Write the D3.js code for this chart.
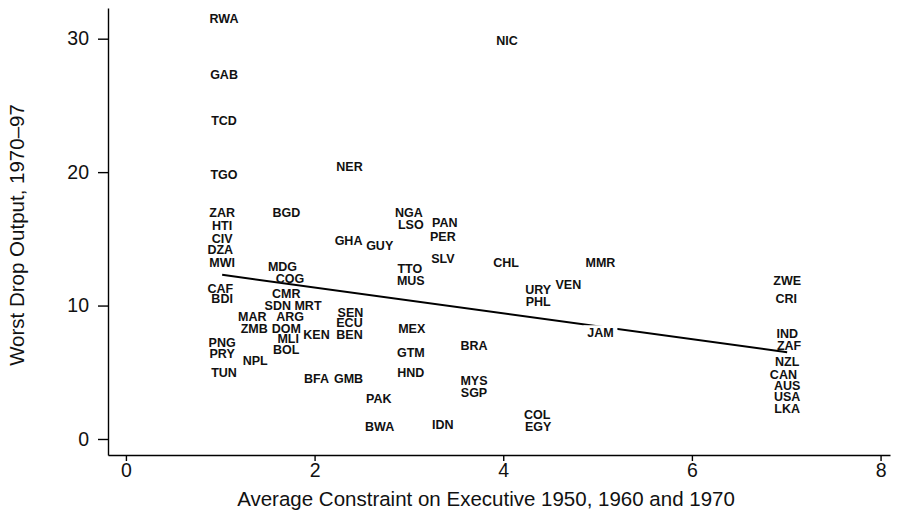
<!DOCTYPE html>
<html><head><meta charset="utf-8">
<script src="https://cdn.jsdelivr.net/npm/d3@7"></script>
<style>body{margin:0;background:#fff}svg{display:block}</style>
</head><body><svg id="c" width="904" height="519"></svg>
<script>
const codes = ["RWA","GAB","TCD","TGO","ZAR","HTI","CIV","DZA","MWI","CAF","BDI","PNG","PRY","TUN","NPL","MAR","ZMB",
"BGD","MDG","COG","CMR","SDN","MRT","ARG","DOM","MLI","BOL","KEN","BFA","GMB","SEN","ECU","BEN","NER","GHA","GUY","PAK","BWA",
"NGA","LSO","PAN","PER","SLV","TTO","MUS","MEX","GTM","HND","BRA","MYS","SGP","IDN","NIC","CHL","URY","PHL","VEN","MMR","JAM","COL","EGY",
"ZWE","CRI","IND","ZAF","NZL","CAN","AUS","USA","LKA"];
const constraint = [1.04,1.04,1.04,1.04,1.02,1.02,1.02,1.0,1.02,1.0,1.02,1.02,1.02,1.04,1.37,1.34,1.36,
1.70,1.66,1.74,1.70,1.61,1.93,1.74,1.70,1.72,1.70,2.02,2.02,2.36,2.38,2.37,2.37,2.37,2.36,2.69,2.68,2.69,
3.0,3.02,3.38,3.36,3.36,3.01,3.02,3.03,3.02,3.02,3.69,3.69,3.69,3.36,4.04,4.03,4.37,4.37,4.69,5.03,5.03,4.36,4.37,
7.01,7.0,7.01,7.03,7.01,6.97,7.01,7.01,7.01];
const worstDrop = [31.5,27.3,23.9,19.85,17.0,16.0,15.05,14.2,13.25,11.3,10.5,7.2,6.4,4.95,5.9,9.2,8.3,
17.0,12.9,12.05,10.9,10.0,10.0,9.2,8.3,7.5,6.7,7.8,4.5,4.57,9.5,8.7,7.8,20.45,14.9,14.5,3.0,0.97,
17.0,16.1,16.2,15.2,13.55,12.8,11.85,8.25,6.45,4.95,6.97,4.4,3.5,1.12,29.9,13.2,11.2,10.3,11.6,13.2,8.0,1.8,0.97,
11.9,10.5,7.9,7.04,5.77,4.87,4.04,3.22,2.32];
const fitX = [1.02, 7.01];
const fitY = [12.3, 6.5];
const xTicks = [0,2,4,6,8];
const yTicks = [0,10,20,30];
const xTitle = "Average Constraint on Executive 1950, 1960 and 1970";
const yTitle = "Worst Drop Output, 1970–97";

const svg = d3.select("#c");
const font = "Arial, 'Liberation Sans', Helvetica, sans-serif";
const x = d3.scaleLinear().domain([-0.19, 8.1]).range([108, 890]);
const y = d3.scaleLinear().domain([-1.2, 32.3]).range([455, 8]);

const xa = svg.append("g").attr("transform","translate(0,455)")
  .call(d3.axisBottom(x).tickValues(xTicks).tickSize(6).tickSizeOuter(0).tickPadding(2).tickFormat(d3.format("d")));
const ya = svg.append("g").attr("transform","translate(108,0)")
  .call(d3.axisLeft(y).tickValues(yTicks).tickSize(10).tickSizeOuter(0).tickPadding(9).tickFormat(d3.format("d")));
[xa,ya].forEach(a=>{
  a.selectAll("path,line").attr("stroke","#000").attr("stroke-width",1.4);
  a.selectAll("text").attr("font-family",font).attr("font-size",19.5).attr("fill","#111");
});

svg.append("text").attr("x",486).attr("y",506).attr("text-anchor","middle")
  .attr("font-family",font).attr("font-size",20.5).attr("fill","#111").text(xTitle);
svg.append("text").attr("transform","translate(24,235) rotate(-90)").attr("text-anchor","middle")
  .attr("font-family",font).attr("font-size",20.5).attr("fill","#111").text(yTitle);

svg.append("line").attr("x1",x(fitX[0])).attr("y1",y(fitY[0])).attr("x2",x(fitX[1])).attr("y2",y(fitY[1]))
  .attr("stroke","#000").attr("stroke-width",2);

const data = codes.map((c,i)=>({c, cx:constraint[i], wd:worstDrop[i]}));
const g = svg.append("g");
data.forEach(d=>{
  if(d.c==="JAM"){
    g.append("rect").attr("x",x(d.cx)-17).attr("y",y(d.wd)-7).attr("width",34).attr("height",14).attr("fill","#fff");
  }
  g.append("text").attr("x",x(d.cx)).attr("y",y(d.wd)).attr("dy","0.36em").attr("text-anchor","middle")
    .attr("font-family",font).attr("font-size",12.5).attr("font-weight","bold").attr("fill","#111").text(d.c);
});
</script></body></html>
